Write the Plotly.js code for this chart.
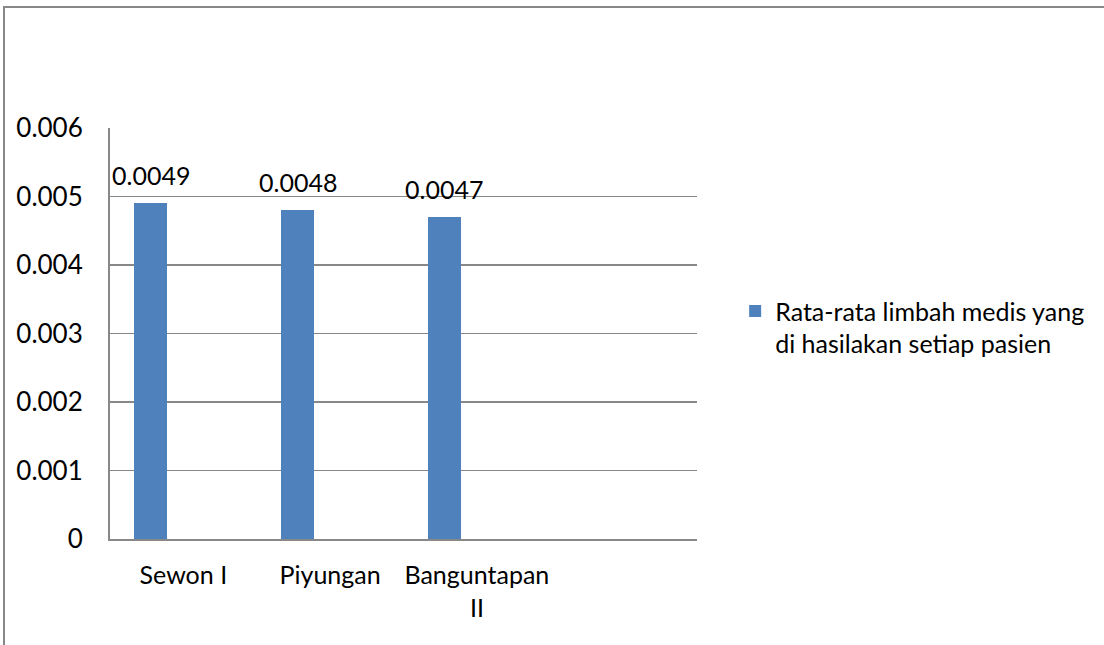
<!DOCTYPE html>
<html>
<head>
<meta charset="utf-8">
<script src="https://cdn.plot.ly/plotly-3.0.1.min.js"></script>
<style>
html,body{margin:0;padding:0;background:#fff;overflow:hidden;}
#chart{position:absolute;left:0;top:0;width:1104px;height:645px;}
#frame{position:absolute;left:3px;top:6px;width:1300px;height:800px;border-left:2px solid #888;border-top:2px solid #888;pointer-events:none;z-index:10;}
</style>
</head>
<body>
<div id="chart"></div>
<div id="frame"></div>
<script>
var categories = ["Sewon I", "Piyungan", "Banguntapan<br>II", " "];
var values = [0.0049, 0.0048, 0.0047, null];
var labels = ["0.0049", "0.0048", "0.0047", ""];
var seriesName = "Rata-rata limbah medis yang<br>di hasilakan setiap pasien";
var yTicks = [0, 0.001, 0.002, 0.003, 0.004, 0.005, 0.006];
var yTickText = ["0", "0.001", "0.002", "0.003", "0.004", "0.005", "0.006"];

var FONT = "Lato, 'Open Sans', sans-serif";

var trace = {
  type: "bar",
  x: categories,
  y: values,
  name: seriesName,
  marker: {color: "#4F81BD"},
  offset: -0.3333,
  width: 0.2222,
  showlegend: true,
  hoverinfo: "x+y"
};

// data labels above the bars, placed through the axes' own scales
var annotations = [];
for (var i = 0; i < categories.length; i++) {
  if (values[i] === null) continue;
  annotations.push({
    x: categories[i], y: values[i], xref: "x", yref: "y",
    text: labels[i], showarrow: false,
    xanchor: "center", yanchor: "bottom",
    xshift: -32.5, yshift: 11,
    font: {family: FONT, size: 25, color: "#000"}
  });
}

var layout = {
  width: 1104,
  height: 645,
  margin: {l: 110, r: 407, t: 128, b: 106, pad: 0},
  paper_bgcolor: "#fff",
  plot_bgcolor: "#fff",
  font: {family: FONT, size: 25, color: "#000"},
  showlegend: true,
  legend: {
    x: 1.065, y: 0.61, xanchor: "left", yanchor: "top",
    valign: "top",
    font: {family: FONT, size: 25, color: "#000"},
    bgcolor: "rgba(0,0,0,0)",
    itemwidth: 30,
    tracegroupgap: 0
  },
  annotations: annotations,
  xaxis: {
    type: "category",
    range: [-0.5, 3.5],
    showgrid: false,
    showline: true,
    linecolor: "#888",
    linewidth: 2,
    ticks: "",
    ticklabelstandoff: 13,
    tickfont: {family: FONT, size: 25, color: "#000"},
    fixedrange: true
  },
  yaxis: {
    range: [0, 0.006],
    tickvals: yTicks,
    ticktext: yTickText,
    showgrid: true,
    gridcolor: "#888",
    gridwidth: 1.5,
    showline: true,
    linecolor: "#888",
    linewidth: 2,
    zeroline: false,
    ticks: "",
    ticklabelstandoff: 20,
    tickfont: {family: FONT, size: 26, color: "#000"},
    fixedrange: true
  },
  bargap: 0
};

Plotly.newPlot("chart", [trace], layout, {displayModeBar: false, staticPlot: true});
</script>
</body>
</html>
